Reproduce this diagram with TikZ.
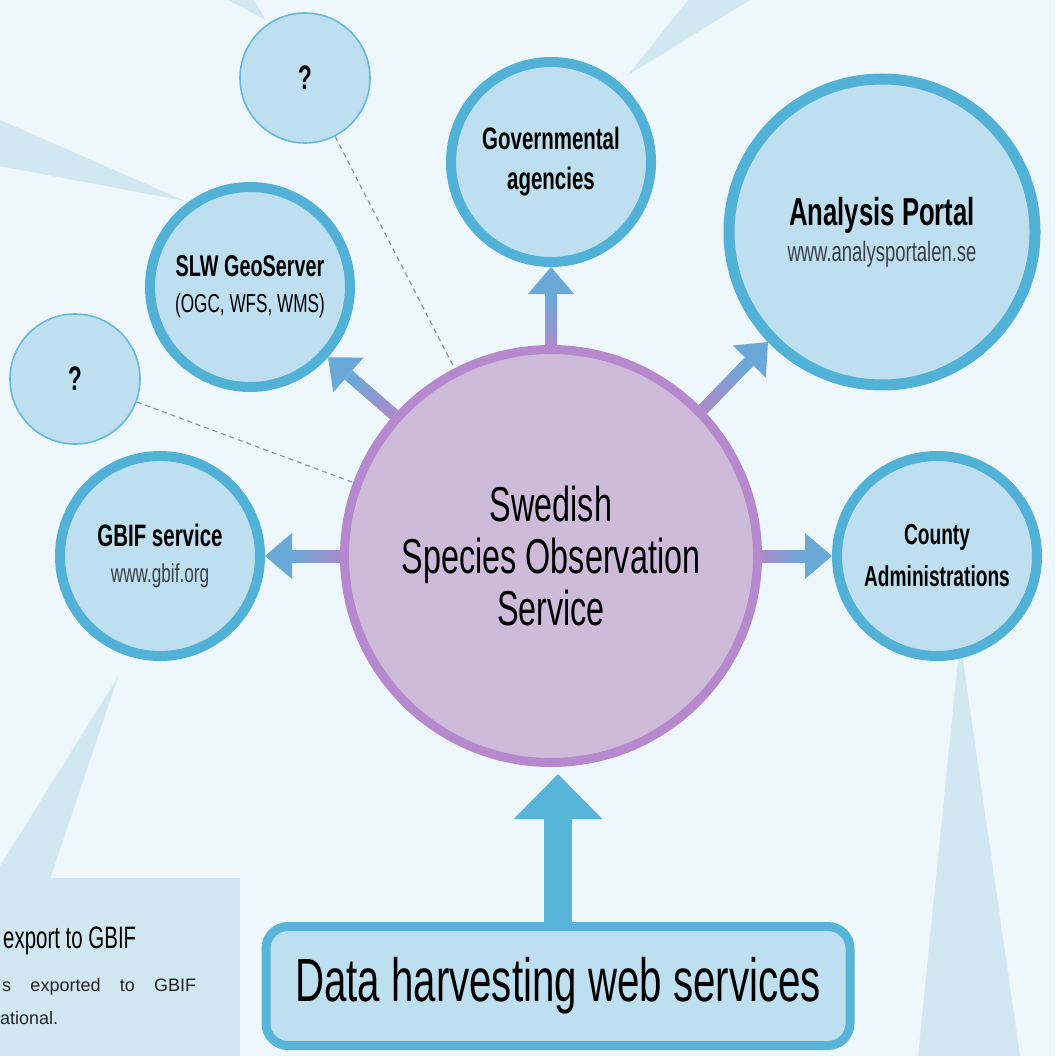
\documentclass[tikz,border=0pt]{standalone}
\usepackage{fontspec}
\setmainfont{Liberation Sans}[FakeStretch=0.66]
\newfontfamily\bodyfont{Liberation Sans}
\usetikzlibrary{arrows.meta,calc}

\definecolor{paper}{HTML}{EEF7FB}
\definecolor{wedge}{HTML}{D1E8F3}
\definecolor{satfill}{HTML}{BEDFEF}
\definecolor{satline}{HTML}{52B1D7}
\definecolor{qline}{HTML}{66B9D9}
\definecolor{hubfill}{HTML}{CDBBD9}
\definecolor{hubline}{HTML}{B688CD}
\definecolor{flowpurple}{HTML}{A78CCB}
\definecolor{flowblue}{HTML}{6AA8D8}
\definecolor{bigblue}{HTML}{58B4D9}
\definecolor{hintgray}{HTML}{8D919B}
\definecolor{urlgray}{HTML}{3A3F45}
\definecolor{bodygray}{HTML}{222222}

\begin{document}
\begin{tikzpicture}[x=1pt,y=-1pt,
        sat/.style={circle,draw=satline,line width=10pt,fill=satfill,inner sep=0pt,
            minimum size=200pt,align=center,font=\fontsize{28}{36}\selectfont},
        qmark/.style={circle,draw=qline,line width=1.6pt,fill=satfill,inner sep=0pt,
            minimum size=130pt,font=\fontsize{34}{34}\selectfont\bfseries},
        hub/.style={circle,draw=hubline,line width=9pt,fill=hubfill,inner sep=0pt,
            minimum size=413pt,align=center,font=\fontsize{49}{52}\selectfont},
        callout/.style={fill=wedge},
        hint/.style={draw=hintgray,line width=1.1pt,dash pattern=on 5pt off 4pt},
        bigflow/.style={draw=bigblue,line width=28pt,-{Triangle[width=86pt,length=45pt]},shorten >=7pt}]
                \useasboundingbox (0,0) rectangle (1055,1056);
                \fill[paper] (0,0) rectangle (1055,1056);

                % callout wedges
                \fill[callout] (228,0) -- (266,20) -- (254,0) -- cycle;
                \fill[callout] (0,120) -- (185,201) -- (0,166) -- cycle;
                \fill[callout] (688,0) -- (628,75) -- (750,0) -- cycle;
                \fill[callout] (118,677) -- (50,879) -- (0,879) -- (0,866) -- cycle;
                \fill[callout] (960,640) -- (1020,1056) -- (918,1056) -- cycle;
                \fill[callout] (0,878) rectangle (240,1056);

                \node[anchor=base west,inner sep=0pt,font=\fontsize{31}{31}\selectfont] (gbifhead) at (3,948) {export to GBIF};
                \node[anchor=base west,inner sep=0pt,text=bodygray,font=\bodyfont\fontsize{18}{20}\selectfont] (gbifline) at (2,991) {\makebox[194pt][s]{s exported to GBIF}};
                \node[anchor=base west,inner sep=0pt,text=bodygray,font=\bodyfont\fontsize{18}{20}\selectfont] (gbifend) at (0,1024) {ational.};

                % services
                \node[hub] (sos) at (551,556) {Swedish\\Species Observation\\Service};
                \node[qmark] (qtop) at (305,78) {?};
                \node[qmark] (qleft) at (75,379) {?};
                \node[sat] (slw) at (250,287) {\fontsize{30}{30}\selectfont\bfseries SLW GeoServer\\ \fontsize{26}{26}\selectfont (OGC, WFS, WMS)};
                \node[sat,font=\fontsize{31}{40}\selectfont\bfseries] (gov) at (551,162) {Governmental\\agencies};
                \node[sat,minimum size=306pt,line width=11pt] (portal) at (882,232) {\fontsize{39}{39}\selectfont\bfseries Analysis Portal\\ \fontsize{28}{28}\selectfont\color{urlgray}www.analysportalen.se};
                \node[sat,font=\fontsize{29}{42}\selectfont\bfseries] (county) at (937,556) {County\\Administrations};
                \node[sat] (gbif) at (160,556) {\fontsize{31}{31}\selectfont\bfseries GBIF service\\ \fontsize{26}{26}\selectfont\color{urlgray}www.gbif.org};
                \node[draw=bigblue,line width=9pt,fill=satfill,rounded corners=22pt,minimum width=584pt,minimum height=119pt,inner sep=0pt,font=\fontsize{61}{61}\selectfont] (harvest) at (558,986) {Data harvesting web services};

                \draw[hint] (qtop) -- (sos);
                \draw[hint] (qleft) -- (sos);

                % outgoing arrows
                \foreach \dst in {slw,gov,portal,county,gbif} {
                    \pgfmathanglebetweenpoints{\pgfpointanchor{sos}{center}}{\pgfpointanchor{\dst}{center}}
                    \pgfmathtruncatemacro\ang{round(\pgfmathresult)}
                    \pgfmathtruncatemacro\back{\ang+180}
                    \pgfmathtruncatemacro\shang{\ang+90}
                    \coordinate (p) at (sos.\ang);
                    \coordinate (q) at (\dst.\back);
                    \coordinate (h) at ($(q)!27pt!(p)$);
                    \shade[left color=flowpurple,right color=flowblue,shading angle=\shang]
                        ($(p)!6pt!90:(q)$) -- ($(p)!6pt!-90:(q)$) -- ($(h)!6pt!90:(p)$) -- ($(h)!6pt!-90:(p)$) -- cycle;
                    \fill[flowblue] ($(h)!23pt!90:(p)$) -- (q) -- ($(h)!23pt!-90:(p)$) -- cycle;
                }
                \draw[bigflow] (harvest.north) -- (harvest.north |- sos.south);
\end{tikzpicture}
\end{document}
